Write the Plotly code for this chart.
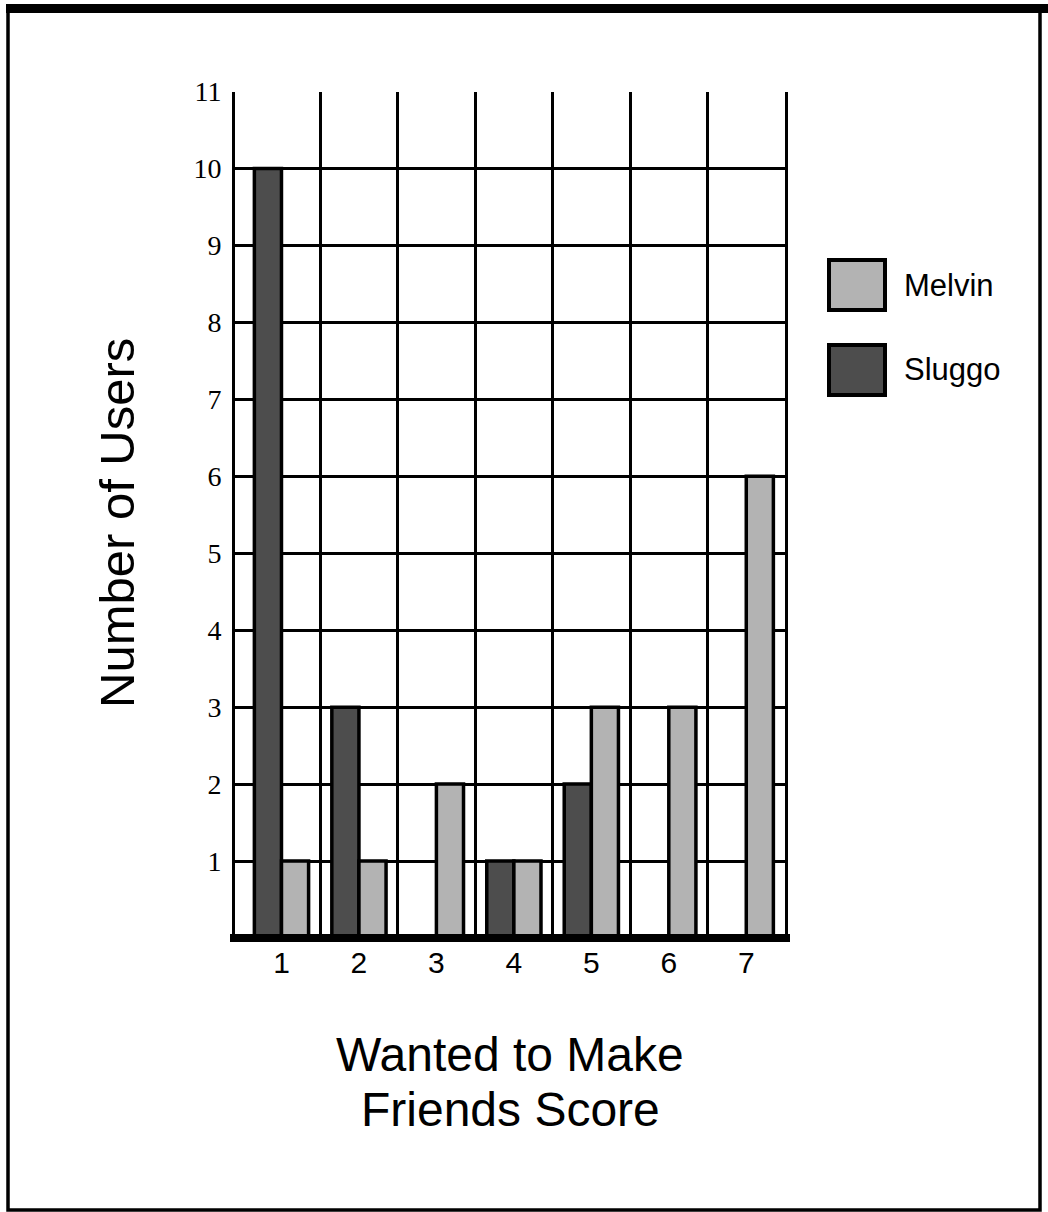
import plotly.graph_objects as go

W, H = 1048, 1212

# ---- data ----
categories = [1, 2, 3, 4, 5, 6, 7]
tick_labels = ["1", "2", "3", "4", "5", "6", "7"]
sluggo = [10, 3, 0, 1, 2, 0, 0]
melvin = [1, 1, 2, 1, 3, 3, 6]
y_ticks = [1, 2, 3, 4, 5, 6, 7, 8, 9, 10, 11]
series_names = ["Melvin", "Sluggo"]

MELVIN_C = "#b3b3b3"
SLUGGO_C = "#4d4d4d"


def px(x):
    return x / W


def py(y):
    return 1 - y / H


fig = go.Figure()
fig.add_trace(go.Bar(x=categories, y=sluggo, name="Sluggo",
                     marker=dict(color=SLUGGO_C, line=dict(color="black", width=3.5))))
fig.add_trace(go.Bar(x=categories, y=melvin, name="Melvin",
                     marker=dict(color=MELVIN_C, line=dict(color="black", width=3.5))))

shapes = []
# outer frame
shapes.append(dict(type="rect", xref="paper", yref="paper",
                   x0=px(8), x1=px(1040), y0=py(1210), y1=py(8),
                   line=dict(color="black", width=3.5)))
shapes.append(dict(type="rect", xref="paper", yref="paper",
                   x0=px(6), x1=px(1048), y0=py(13), y1=py(4),
                   line=dict(width=0), fillcolor="black"))
# bottom thick axis bar
shapes.append(dict(type="rect", xref="paper", yref="paper",
                   x0=px(230), x1=px(790), y0=py(942), y1=py(934),
                   line=dict(width=0), fillcolor="black", layer="above"))

annotations = []
# legend (custom, large swatches)
leg = [("Melvin", MELVIN_C, 260, 310), ("Sluggo", SLUGGO_C, 345, 395)]
for name, col, y0, y1 in leg:
    shapes.append(dict(type="rect", xref="paper", yref="paper",
                       x0=px(829), x1=px(885), y0=py(y1), y1=py(y0),
                       fillcolor=col, line=dict(color="black", width=4)))
    annotations.append(dict(text=name, xref="paper", yref="paper",
                            x=px(902), y=py((y0 + y1) / 2), xanchor="left", yanchor="middle",
                            showarrow=False,
                            font=dict(family="Liberation Sans, Arial", size=31, color="black")))

# axis titles
annotations.append(dict(text="Wanted to Make", xref="paper", yref="paper",
                        x=px(510), y=py(1054), xanchor="center", yanchor="middle", showarrow=False,
                        font=dict(family="Liberation Sans, Arial", size=48, color="black")))
annotations.append(dict(text="Friends Score", xref="paper", yref="paper",
                        x=px(510), y=py(1109), xanchor="center", yanchor="middle", showarrow=False,
                        font=dict(family="Liberation Sans, Arial", size=48, color="black")))
annotations.append(dict(text="Number of Users", xref="paper", yref="paper",
                        x=px(117), y=py(523), xanchor="center", yanchor="middle", showarrow=False,
                        textangle=-90,
                        font=dict(family="Liberation Sans, Arial", size=49, color="black")))

fig.update_layout(
    width=W, height=H,
    margin=dict(l=0, r=0, t=0, b=0, pad=0, autoexpand=False),
    paper_bgcolor="white", plot_bgcolor="white",
    barmode="group", bargap=0.3, bargroupgap=0,
    showlegend=False,
    shapes=shapes, annotations=annotations,
    xaxis=dict(domain=[px(235), px(785)], range=[0.4, 7.5], automargin=False,
               tickmode="array", tickvals=categories, ticktext=tick_labels,
               showgrid=False, zeroline=False, showline=False,
               ticks="", ticklabelstandoff=4,
               tickfont=dict(family="Liberation Sans, Arial", size=30, color="black"),
               minor=dict(tickvals=[1.5, 2.5, 3.5, 4.5, 5.5, 6.5], showgrid=True,
                          gridcolor="black", gridwidth=3, ticks="")),
    yaxis=dict(domain=[py(938), py(91.5)], range=[0, 11], automargin=False,
               tickmode="array", tickvals=y_ticks, ticktext=[str(v) for v in y_ticks],
               showgrid=True, gridcolor="black", gridwidth=3,
               zeroline=False, showline=True, linecolor="black", linewidth=3, mirror=True,
               ticks="", ticklabelstandoff=5,
               tickfont=dict(family="Liberation Serif, Times New Roman", size=28, color="black")),
)

fig.write_html("out.html", config={"displayModeBar": False},
               post_script="document.body.style.margin='0';"
                           "var d=document.getElementById('{plot_id}');"
                           "d.style.position='fixed';d.style.top='0px';d.style.left='0px';"
                           "window.scrollTo(0,0);")
